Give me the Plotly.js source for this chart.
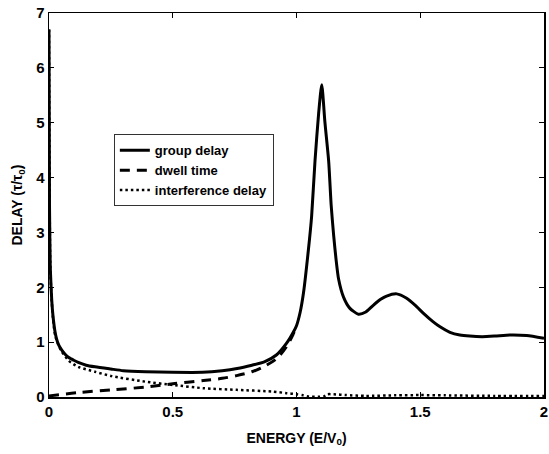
<!DOCTYPE html>
<html>
<head>
<meta charset="utf-8">
<script src="https://cdn.plot.ly/plotly-3.0.1.min.js"></script>
<style>html,body{margin:0;padding:0;background:#fff}#plot{width:549px;height:454px}</style>
</head>
<body>
<div id="plot"></div>
<script>
// Group delay
const groupX = [0, 0.002, 0.005, 0.008, 0.011, 0.014, 0.018, 0.024, 0.03, 0.038, 0.051, 0.065, 0.08, 0.1, 0.118, 0.15, 0.186, 0.25, 0.3, 0.39, 0.5, 0.62, 0.7, 0.76, 0.82, 0.87, 0.92, 0.96, 0.987, 1.0, 1.015, 1.028, 1.048, 1.061, 1.075, 1.09, 1.102, 1.115, 1.13, 1.14, 1.15, 1.16, 1.17, 1.19, 1.215, 1.25, 1.28, 1.31, 1.34, 1.364, 1.405, 1.445, 1.48, 1.512, 1.55, 1.58, 1.62, 1.66, 1.7, 1.75, 1.8, 1.863, 1.93, 2.0];
const groupY = [6.7, 3.5, 2.4, 2.05, 1.77, 1.58, 1.4, 1.2, 1.07, 0.96, 0.86, 0.78, 0.72, 0.67, 0.63, 0.58, 0.55, 0.51, 0.48, 0.46, 0.45, 0.45, 0.48, 0.52, 0.58, 0.64, 0.77, 0.98, 1.18, 1.3, 1.55, 1.89, 2.68, 3.29, 4.32, 5.2, 5.69, 5.0, 4.3, 3.5, 2.95, 2.5, 2.15, 1.82, 1.62, 1.51, 1.55, 1.67, 1.78, 1.84, 1.88, 1.80, 1.67, 1.53, 1.38, 1.28, 1.18, 1.13, 1.11, 1.10, 1.11, 1.13, 1.12, 1.07];
// Dwell time
const dwellX = [0, 0.118, 0.253, 0.388, 0.5, 0.624, 0.7, 0.758, 0.82, 0.866, 0.92, 0.96, 0.987, 1.0];
const dwellY = [0.02, 0.08, 0.13, 0.18, 0.24, 0.30, 0.34, 0.39, 0.46, 0.55, 0.70, 0.92, 1.15, 1.28];
// Interference delay
const interX = [0, 0.005, 0.011, 0.018, 0.025, 0.038, 0.051, 0.08, 0.118, 0.186, 0.253, 0.388, 0.5, 0.624, 0.758, 0.9, 0.96, 1.0, 1.027, 1.05, 1.09, 1.11, 1.125, 1.15, 1.2, 1.28, 1.4, 1.5, 1.6, 1.8, 2.0];
const interY = [6.7, 2.4, 1.75, 1.35, 1.12, 0.95, 0.83, 0.66, 0.55, 0.46, 0.38, 0.28, 0.22, 0.16, 0.13, 0.10, 0.07, 0.05, 0.03, 0.008, 0.005, 0.01, 0.05, 0.05, 0.035, 0.02, 0.03, 0.035, 0.03, 0.02, 0.02];

const xTicks = [0, 0.5, 1, 1.5, 2];
const xTickText = ['0', '0.5', '1', '1.5', '2'];
const yTicks = [0, 1, 2, 3, 4, 5, 6, 7];
const yTickText = ['0', '1', '2', '3', '4', '5', '6', '7'];

const traces = [
  {x: groupX, y: groupY, name: 'group delay', mode: 'lines', legendrank: 1,
   line: {color: '#000', width: 3, shape: 'spline', smoothing: 0.6}},
  {x: dwellX, y: dwellY, name: 'dwell time', mode: 'lines', legendrank: 2,
   line: {color: '#000', width: 3, dash: '10px,7px', shape: 'spline', smoothing: 0.8}},
  {x: interX, y: interY, name: 'interference delay', mode: 'lines', legendrank: 3,
   line: {color: '#000', width: 2.5, dash: '2.5px,3px', shape: 'spline', smoothing: 0.6}}
];
// draw solid on top
const ordered = [traces[1], traces[2], traces[0]];

const fam = '"Liberation Sans", Arial, sans-serif';
const layout = {
  width: 549, height: 454,
  margin: {l: 49, r: 5, t: 13, b: 57},
  paper_bgcolor: '#fff', plot_bgcolor: '#fff',
  showlegend: true,
  legend: {x: 0.131, y: 0.684, xanchor: 'left', yanchor: 'top',
    bgcolor: '#fff', bordercolor: '#333', borderwidth: 1,
    font: {family: fam, size: 13, color: '#000', weight: 'bold'},
    traceorder: 'normal', tracegroupgap: 0, itemwidth: 30},
  xaxis: {range: [0, 2], tickvals: xTicks, ticktext: xTickText,
    ticks: 'inside', ticklen: 5, tickwidth: 1, tickcolor: '#000',
    showline: true, linecolor: '#000', linewidth: 1.5, mirror: 'allticks',
    showgrid: false, zeroline: false,
    tickfont: {family: fam, size: 15, color: '#000', weight: 'bold'},
    title: {text: 'ENERGY (E/V<sub>0</sub>)', standoff: 14,
      font: {family: fam, size: 14, color: '#000', weight: 'bold'}}},
  yaxis: {range: [0, 7], tickvals: yTicks, ticktext: yTickText,
    ticks: 'inside', ticklen: 5, tickwidth: 1, tickcolor: '#000',
    showline: true, linecolor: '#000', linewidth: 1.5, mirror: 'allticks',
    showgrid: false, zeroline: false,
    tickfont: {family: fam, size: 15, color: '#000', weight: 'bold'},
    title: {text: 'DELAY (τ/τ<sub>0</sub>)', standoff: 10,
      font: {family: fam, size: 14, color: '#000', weight: 'bold'}}}
};
Plotly.newPlot('plot', ordered, layout, {displayModeBar: false, staticPlot: true});
</script>
</body>
</html>
